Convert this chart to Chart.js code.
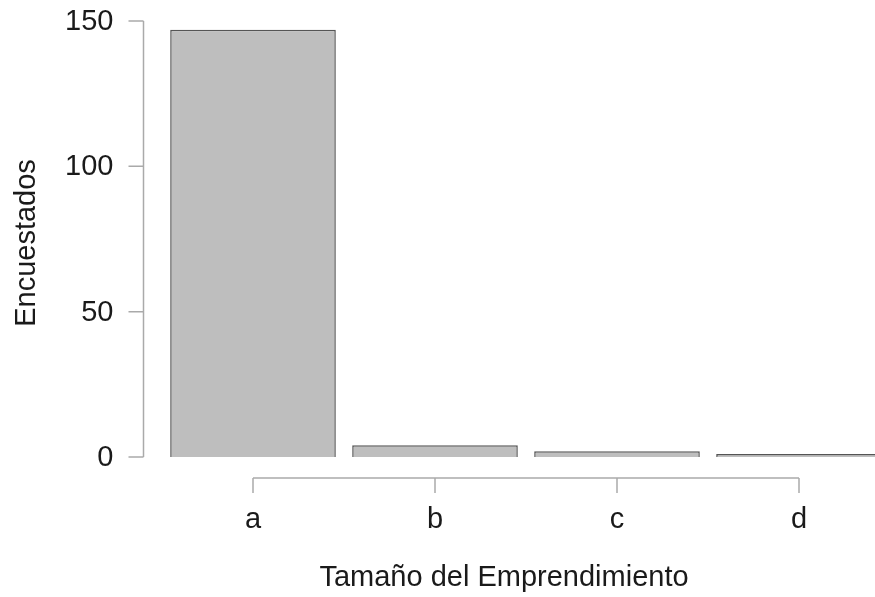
<!DOCTYPE html>
<html>
<head>
<meta charset="utf-8">
<script src="https://cdn.jsdelivr.net/npm/chart.js@4.4.1/dist/chart.umd.min.js"></script>
<style>
  html, body { margin: 0; padding: 0; background: #fff; }
  #wrap { width: 875px; height: 597px; overflow: hidden; }
</style>
</head>
<body>
<div id="wrap"><canvas id="barChart" width="875" height="597"></canvas></div>
<script>
const categories = ["a", "b", "c", "d"];
const respondents = [147, 4, 2, 1];
const yTicks = [0, 50, 100, 150];
const xTitle = "Tamaño del Emprendimiento";
const yTitle = "Encuestados";

const FONT = "29px 'Liberation Sans', Arial, sans-serif";

// R-style detached axes drawn from the chart's own scales
const rAxes = {
  id: "rAxes",
  afterDraw(chart) {
    const ctx = chart.ctx;
    const x = chart.scales.x;
    const y = chart.scales.y;
    const axisX = 143.5;
    const axisY = y.getPixelForValue(0) + 21;

    ctx.save();
    ctx.strokeStyle = "#aaaaaa";
    ctx.lineWidth = 1.5;
    ctx.fillStyle = "#1a1a1a";
    ctx.font = FONT;

    // y axis
    ctx.beginPath();
    ctx.moveTo(axisX, y.getPixelForValue(yTicks[0]));
    ctx.lineTo(axisX, y.getPixelForValue(yTicks[yTicks.length - 1]));
    yTicks.forEach(t => {
      const py = y.getPixelForValue(t);
      ctx.moveTo(axisX, py);
      ctx.lineTo(axisX - 15, py);
    });
    ctx.stroke();
    ctx.textAlign = "right";
    ctx.textBaseline = "middle";
    yTicks.forEach(t => {
      ctx.fillText(String(t), axisX - 30, y.getPixelForValue(t) + 1);
    });

    // x axis
    ctx.beginPath();
    ctx.moveTo(x.getPixelForValue(0), axisY);
    ctx.lineTo(x.getPixelForValue(categories.length - 1), axisY);
    categories.forEach((c, i) => {
      const px = x.getPixelForValue(i);
      ctx.moveTo(px, axisY);
      ctx.lineTo(px, axisY + 15);
    });
    ctx.stroke();
    ctx.textAlign = "center";
    categories.forEach((c, i) => {
      ctx.fillText(c, x.getPixelForValue(i), axisY + 42);
    });

    // titles
    ctx.fillText(xTitle, 504, axisY + 100);
    ctx.translate(27, (y.getPixelForValue(yTicks[0]) + y.getPixelForValue(yTicks[yTicks.length - 1])) / 2 + 4);
    ctx.rotate(-Math.PI / 2);
    ctx.fillText(yTitle, 0, 0);
    ctx.restore();
  }
};

new Chart(document.getElementById("barChart"), {
  type: "bar",
  data: {
    labels: categories,
    datasets: [{
      data: respondents,
      backgroundColor: "#bebebe",
      borderColor: "#555555",
      borderWidth: 1.5,
      barPercentage: 0.91,
      categoryPercentage: 1,
      clip: false
    }]
  },
  options: {
    responsive: false,
    animation: false,
    devicePixelRatio: 1,
    layout: { padding: { left: 253, right: 76, top: 21, bottom: 140 } },
    plugins: { legend: { display: false }, tooltip: { enabled: false } },
    scales: {
      x: { display: false, offset: false },
      y: { display: false, min: 0, max: 150 }
    }
  },
  plugins: [rAxes]
});
</script>
</body>
</html>
